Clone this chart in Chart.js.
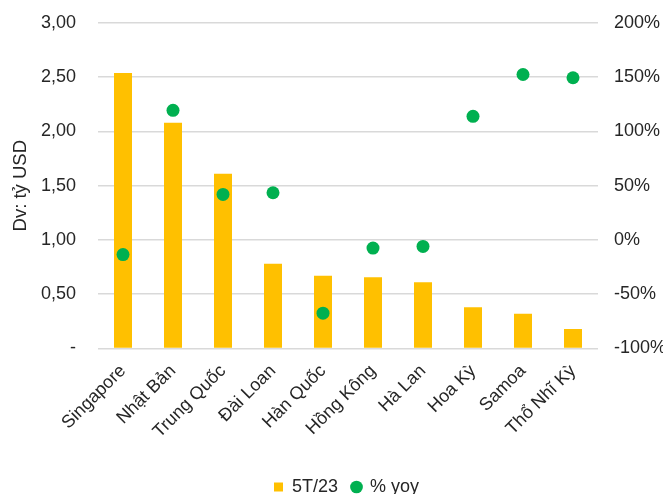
<!DOCTYPE html>
<html>
<head>
<meta charset="utf-8">
<script src="https://cdn.jsdelivr.net/npm/chart.js@4/dist/chart.umd.min.js"></script>
<style>
  html, body { margin: 0; padding: 0; background: #ffffff; }
  #wrap { width: 663px; height: 494px; position: relative; }
</style>
</head>
<body>
<div id="wrap"><canvas id="c"></canvas></div>
<script>
// Top markets, first five months of 2023
const categories = ['Singapore', 'Nhật Bản', 'Trung Quốc', 'Đài Loan', 'Hàn Quốc',
                    'Hồng Kông', 'Hà Lan', 'Hoa Kỳ', 'Samoa', 'Thổ Nhĩ Kỳ'];
const value5T23 = [2.54, 2.08, 1.61, 0.78, 0.67, 0.655, 0.61, 0.38, 0.32, 0.18];   // tỷ USD
const yoyPct    = [-13.5, 119.5, 42, 43.5, -67.5, -7.5, -6, 114, 152.5, 149.5];      // %
const leftTicks  = [0, 0.5, 1, 1.5, 2, 2.5, 3];
const rightTicks = [-100, -50, 0, 50, 100, 150, 200];

const FONT = "'Liberation Sans', Arial, sans-serif";
const TEXT = '#262626';
const NONE = 'rgba(0,0,0,0)';

new Chart(document.getElementById('c'), {
  type: 'bar',
  data: {
    labels: categories,
    datasets: [
      {
        label: '5T/23',
        data: value5T23,
        backgroundColor: '#FFC000',
        borderWidth: 0,
        barPercentage: 0.36,
        categoryPercentage: 1,
        yAxisID: 'y',
        pointStyle: 'rect',
        order: 2
      },
      {
        type: 'line',
        label: '% yoy',
        data: yoyPct,
        showLine: false,
        backgroundColor: '#00B050',
        borderColor: '#00B050',
        pointStyle: 'circle',
        pointRadius: 6.5,
        pointBorderWidth: 0,
        yAxisID: 'y1',
        order: 1
      }
    ]
  },
  options: {
    responsive: true,
    maintainAspectRatio: false,
    animation: false,
    layout: { padding: { top: 23, left: 30, right: 0, bottom: -12 } },
    plugins: {
      tooltip: { enabled: false },
      legend: {
        position: 'bottom',
        labels: {
          usePointStyle: true,
          boxWidth: 9,
          boxHeight: 9,
          padding: 14,
          color: TEXT,
          font: { family: FONT, size: 18 },
          sort: (a, b) => a.datasetIndex - b.datasetIndex
        }
      }
    },
    scales: {
      x: {
        grid: { display: false },
        border: { display: false },
        ticks: {
          color: TEXT,
          font: { family: FONT, size: 18 },
          maxRotation: 45,
          minRotation: 45,
          padding: 4,
          autoSkip: false
        },
        afterFit(scale) { scale.height = 115.6; }
      },
      y: {
        position: 'left',
        min: 0,
        max: 3,
        afterBuildTicks(scale) { scale.ticks = leftTicks.map(v => ({ value: v })); },
        ticks: {
          color: TEXT,
          font: { family: FONT, size: 18 },
          padding: 2,
          callback: v => v === 0 ? '-' : v.toFixed(2).replace('.', ',')
        },
        grid: { color: '#D9D9D9', lineWidth: 1.5, drawTicks: true, tickLength: 20, tickColor: NONE },
        border: { display: false },
        title: {
          display: true,
          text: 'Dv: tỷ USD',
          color: TEXT,
          font: { family: FONT, size: 18.5 },
          padding: { top: -20, bottom: 0 }
        },
        afterFit(scale) { scale.width = 68; }
      },
      y1: {
        position: 'right',
        min: -100,
        max: 200,
        afterBuildTicks(scale) { scale.ticks = rightTicks.map(v => ({ value: v })); },
        ticks: {
          color: TEXT,
          font: { family: FONT, size: 18 },
          padding: 2,
          callback: v => v + '%'
        },
        grid: { display: false, drawTicks: true, tickLength: 14 },
        border: { display: false },
        afterFit(scale) { scale.width = 65; }
      }
    }
  }
});
</script>
</body>
</html>
